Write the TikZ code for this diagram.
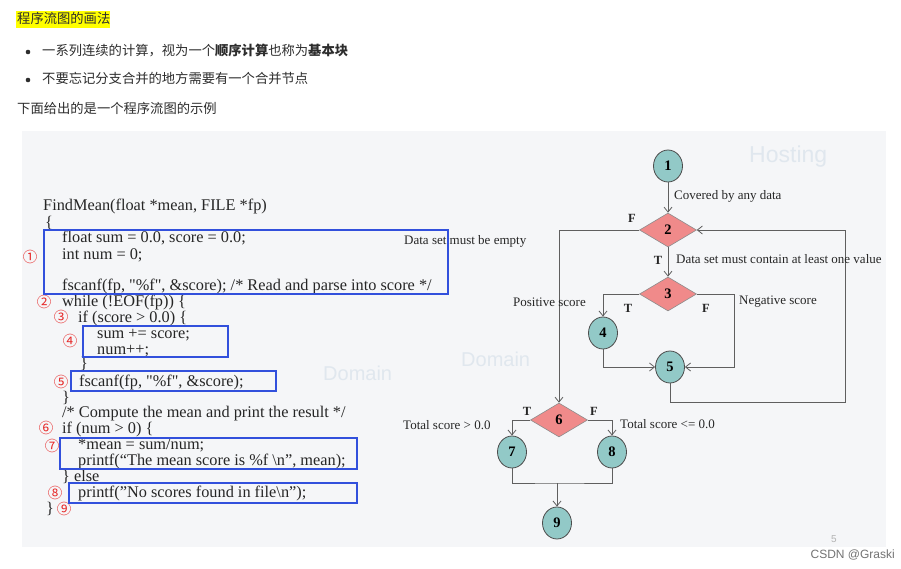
\documentclass[tikz,border=0pt]{standalone}
\usepackage{fontspec}
\setmainfont{Liberation Serif}[Ligatures=TeXOff]
\newfontfamily\cjk{Noto Sans CJK SC}
\newfontfamily\djv{DejaVu Sans}
\newfontfamily\wsans{Liberation Sans}
\usetikzlibrary{shapes.geometric,arrows.meta}
\definecolor{slidebg}{RGB}{245,246,248}
\definecolor{hl}{RGB}{255,255,0}
\definecolor{hdtext}{RGB}{45,45,45}
\definecolor{boxblue}{RGB}{50,80,220}
\definecolor{numred}{RGB}{230,40,40}
\definecolor{tealfill}{RGB}{146,201,199}
\definecolor{salmon}{RGB}{240,138,138}
\definecolor{edgegray}{RGB}{95,95,95}
\definecolor{wm}{RGB}{224,231,238}
\begin{document}
\begin{tikzpicture}[x=1pt,y=-1pt,
  hd/.style={anchor=base west, inner sep=0, text=hdtext, font=\cjk\fontsize{13.3}{15}\selectfont},
  codeline/.style={anchor=base west, inner sep=0, text=black!85, font=\fontsize{16.3}{18}\selectfont},
  cnum/.style={anchor=center, inner sep=0, text=numred, font=\cjk\fontsize{14.5}{14}\selectfont},
  bluebox/.style={draw=boxblue, line width=1.3pt},
  circ/.style={ellipse, draw=black!70, fill=tealfill, line width=0.8pt, minimum width=29pt, minimum height=32pt, inner sep=0, font=\bfseries\fontsize{14.5}{14}\selectfont},
  dia/.style={diamond, draw=black!45, fill=salmon, line width=0.6pt, minimum width=57pt, minimum height=34pt, inner sep=0, font=\bfseries\fontsize{14.5}{14}\selectfont},
  flow/.style={draw=edgegray, line width=0.8pt},
  arr/.style={flow, -{Straight Barb[length=5pt,width=8pt]}},
  lab/.style={inner sep=0, text=black!85, font=\fontsize{13}{14}\selectfont},
  tf/.style={inner sep=0, text=black!85, font=\bfseries\fontsize{12.5}{14}\selectfont},
  wmark/.style={inner sep=0, text=wm, font=\wsans\fontsize{23}{23}\selectfont}
]
\useasboundingbox (0,0) rectangle (901,569);
\fill[white] (0,0) rectangle (901,569);
% ---------- header ----------
\fill[hl] (16,11) rectangle (110,28);
\node[hd] (title) at (17,24) {程序流图的画法};
\fill[hdtext] (28,52) circle (2.3pt);
\node[hd] (b1) at (42,56) {一系列连续的计算，视为一个\textbf{顺序计算}也称为\textbf{基本块}};
\fill[hdtext] (28,80) circle (2.3pt);
\node[hd] (b2) at (42,84) {不要忘记分支合并的地方需要有一个合并节点};
\node[hd] (intro) at (17,114) {下面给出的是一个程序流图的示例};
% ---------- slide background ----------
\fill[slidebg] (22,131) rectangle (886,547);
\node[wmark, anchor=west] (wm1) at (749,157) {Hosting};
\node[wmark, anchor=west, font=\wsans\fontsize{20}{20}\selectfont] (wm2) at (461,359) {Domain};
\node[wmark, anchor=west, font=\wsans\fontsize{20}{20}\selectfont] (wm3) at (323,373) {Domain};
\node[inner sep=0, text=black!30, font=\wsans\fontsize{10}{10}\selectfont] (pg) at (834,539) {5};
\node[inner sep=0, anchor=east, text=black!55, font=\wsans\fontsize{12}{12}\selectfont] (csdn) at (895,555) {CSDN @Graski};
% ---------- code ----------
\node[codeline] (c1) at (43,211) {FindMean(float *mean, FILE *fp)};
\node[codeline] (c2) at (45,227) {\{};
\node[codeline] (c3) at (62,243) {float sum = 0.0, score = 0.0;};
\node[codeline] (c4) at (62,259) {int num = 0;};
\node[codeline] (c5) at (62,290) {fscanf(fp, "\%f", \&score); /* Read and parse into score */};
\node[codeline] (c6) at (62,306) {while (!EOF(fp)) \{};
\node[codeline] (c7) at (78,322) {if (score > 0.0) \{};
\node[codeline] (c8) at (97,338) {sum += score;};
\node[codeline] (c9) at (97,354) {num++;};
\node[codeline] (c10) at (80,368) {\}};
\node[codeline] (c11) at (79,386) {fscanf(fp, "\%f", \&score);};
\node[codeline] (c12) at (62,402) {\}};
\node[codeline] (c13) at (62,417) {/* Compute the mean and print the result */};
\node[codeline] (c14) at (62,433) {if (num > 0) \{};
\node[codeline] (c15) at (78,449) {*mean = sum/num;};
\node[codeline] (c16) at (78,465) {printf(“The mean score is \%f \textbackslash n”, mean);};
\node[codeline] (c17) at (62,481) {\} else};
\node[codeline] (c18) at (78,497) {printf(”No scores found in file\textbackslash n”);};
\node[codeline] (c19) at (46,513) {\}};
% circled numbers
\node[cnum] (m1) at (30,257) {①};
\node[cnum] (m2) at (44,302) {②};
\node[cnum] (m3) at (61,317) {③};
\node[cnum] (m4) at (70,341) {④};
\node[cnum] (m5) at (61,382) {⑤};
\node[cnum] (m6) at (46,428) {⑥};
\node[cnum] (m7) at (52,446) {⑦};
\node[cnum] (m8) at (55,493) {⑧};
\node[cnum] (m9) at (64,509) {⑨};
% blue boxes
\draw[bluebox] (44,230) rectangle (448,294);
\draw[bluebox] (83,326) rectangle (228,357);
\draw[bluebox] (71,371) rectangle (276,391);
\draw[bluebox] (60,438) rectangle (357,469);
\draw[bluebox] (69,483) rectangle (357,503);
% ---------- flow graph ----------
\node[circ] (n1) at (668,166) {1};
\node[dia] (d2) at (668,230) {2};
\node[dia] (d3) at (668,294) {3};
\node[circ] (n4) at (603,333) {4};
\node[circ] (n5) at (670,367) {5};
\node[dia] (d6) at (559,420) {6};
\node[circ] (n7) at (512,452) {7};
\node[circ] (n8) at (612,452) {8};
\node[circ] (n9) at (557,523) {9};
\coordinate (j78) at (557,483);
\draw[arr] (n1) -- (d2);
\draw[arr] (d2) -- (d3);
\draw[arr] (d2.west) -| (d6.north);
\draw[arr] (d3.west) -| (n4.north);
\draw[arr] (d3.east) -- (734,294) |- (n5.east);
\draw[arr] (n4.south) |- (n5.west);
\draw[arr] (n5.south) |- (845,402) |- (d2.east);
\draw[arr] (d6.west) -| (n7.north);
\draw[arr] (d6.east) -| (n8.north);
\draw[flow] (n7.south) |- (j78) -| (n8.south);
\draw[arr] (j78) -- (n9.north);
% labels
\node[lab, anchor=west] (l1) at (674,196) {Covered by any data};
\node[tf] (f2) at (632,218) {F};
\node[lab, anchor=west] (l2) at (404,241) {Data set must be empty};
\node[tf] (t2) at (658,260) {T};
\node[lab, anchor=west] (l3) at (676,259) {Data set must contain at least one value};
\node[lab, anchor=west] (l4) at (513,302) {Positive score};
\node[tf] (t3) at (628,308) {T};
\node[tf] (f3) at (706,308) {F};
\node[lab, anchor=west] (l5) at (739,302) {Negative score};
\node[tf] (t6) at (527,411) {T};
\node[tf] (f6) at (594,411) {F};
\node[lab, anchor=west] (l6) at (403,425) {Total score > 0.0};
\node[lab, anchor=west] (l7) at (620,424) {Total score <= 0.0};
\end{tikzpicture}
\end{document}
